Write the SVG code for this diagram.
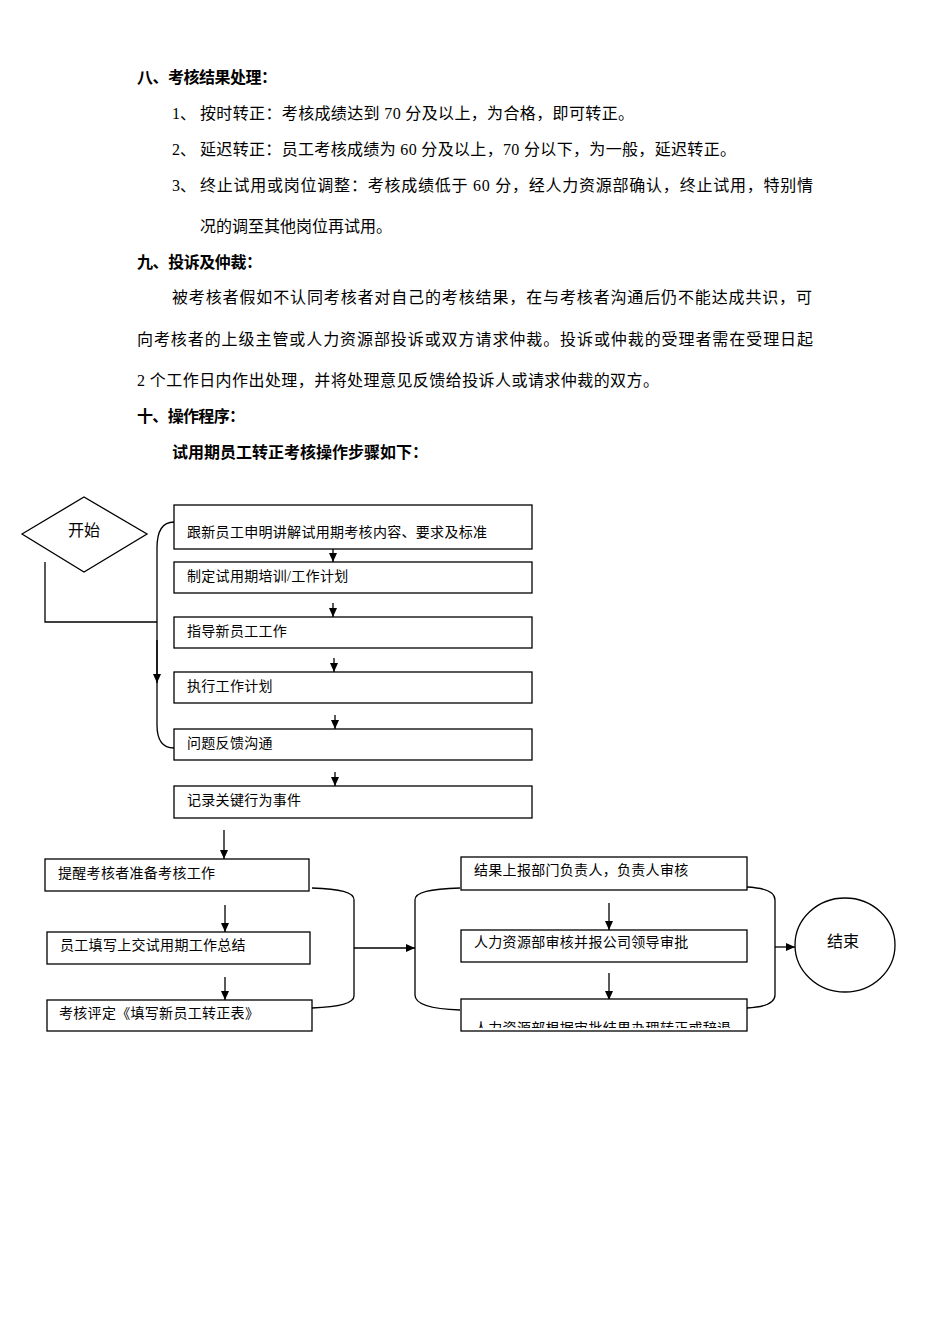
<svg xmlns="http://www.w3.org/2000/svg" width="950" height="1344" viewBox="0 0 950 1344">
<style>
text{font-family:"Liberation Serif","Noto Sans CJK SC",serif;fill:#000}
.h{font-size:16px;font-weight:bold}
.p{font-size:16px}
.b{font-size:14px;letter-spacing:0.3px}
.n rect,.n path,.n ellipse{fill:#fff;stroke:#000;stroke-width:1.3}
#connectors path,#connectors line{fill:none;stroke:#000;stroke-width:1.3}
</style>
<defs>
<marker id="ah" markerWidth="10" markerHeight="10" refX="9" refY="5" orient="auto" markerUnits="userSpaceOnUse">
<path d="M0,1 L9,5 L0,9 Z" fill="#000"/>
</marker>
<clipPath id="clip12"><rect x="461" y="1000" width="286" height="28"/></clipPath>
</defs>
<rect width="950" height="1344" fill="#fff"/>

<g id="body-text">
<text class="h" x="137" y="83" textLength="140" lengthAdjust="spacing">八、考核结果处理：</text>
<text class="p" x="172" y="119">1、</text>
<text class="p" x="200" y="119" textLength="434" lengthAdjust="spacing">按时转正：考核成绩达到 70 分及以上，为合格，即可转正。</text>
<text class="p" x="172" y="155">2、</text>
<text class="p" x="200" y="155" textLength="536" lengthAdjust="spacing">延迟转正：员工考核成绩为 60 分及以上，70 分以下，为一般，延迟转正。</text>
<text class="p" x="172" y="191">3、</text>
<text class="p" x="200" y="191" textLength="613" lengthAdjust="spacing">终止试用或岗位调整：考核成绩低于 60 分，经人力资源部确认，终止试用，特别情</text>
<text class="p" x="200" y="232" textLength="192" lengthAdjust="spacing">况的调至其他岗位再试用。</text>
<text class="h" x="137" y="268" textLength="125" lengthAdjust="spacing">九、投诉及仲裁：</text>
<text class="p" x="172" y="303" textLength="640" lengthAdjust="spacing">被考核者假如不认同考核者对自己的考核结果，在与考核者沟通后仍不能达成共识，可</text>
<text class="p" x="137" y="345" textLength="676" lengthAdjust="spacing">向考核者的上级主管或人力资源部投诉或双方请求仲裁。投诉或仲裁的受理者需在受理日起</text>
<text class="p" x="137" y="386" textLength="522" lengthAdjust="spacing">2 个工作日内作出处理，并将处理意见反馈给投诉人或请求仲裁的双方。</text>
<text class="h" x="137" y="422" textLength="108" lengthAdjust="spacing">十、操作程序：</text>
<text class="h" x="172" y="458" textLength="256" lengthAdjust="spacing">试用期员工转正考核操作步骤如下：</text>
</g>

<g id="connectors">
<path d="M45,562 V622 H157"/>
<path d="M174,522 C162,522 157,532 157,548 V725 C157,740 163,748 174,748"/>
<line x1="157" y1="640" x2="157" y2="683" marker-end="url(#ah)"/>
<line x1="333" y1="549" x2="333" y2="562" marker-end="url(#ah)"/>
<line x1="333" y1="603" x2="333" y2="617" marker-end="url(#ah)"/>
<line x1="334" y1="658" x2="334" y2="672" marker-end="url(#ah)"/>
<line x1="335" y1="715" x2="335" y2="729" marker-end="url(#ah)"/>
<line x1="335" y1="772" x2="335" y2="786" marker-end="url(#ah)"/>
<line x1="224" y1="830" x2="224" y2="859" marker-end="url(#ah)"/>
<line x1="225" y1="905" x2="225" y2="932" marker-end="url(#ah)"/>
<line x1="225" y1="977" x2="225" y2="1000" marker-end="url(#ah)"/>
<path d="M312,888 C340,889 354,892 354,900 V996 C354,1003 340,1007 312,1008"/>
<line x1="354" y1="948" x2="415" y2="948" marker-end="url(#ah)"/>
<path d="M460,888 C430,889 415,892 415,900 V995 C415,1004 430,1009 460,1010"/>
<line x1="609" y1="903" x2="609" y2="930" marker-end="url(#ah)"/>
<line x1="609" y1="973" x2="609" y2="1000" marker-end="url(#ah)"/>
<path d="M747,887 C766,888 775,892 775,900 V995 C775,1003 766,1007 747,1008"/>
<line x1="775" y1="947" x2="795" y2="947" marker-end="url(#ah)"/>
</g>

<g id="start" class="n">
<path d="M22,534 L84,497 L147,534 L84,572 Z"/>
<text class="p" x="84" y="536" text-anchor="middle">开始</text>
</g>
<g id="n1" class="n"><rect x="174" y="505" width="358" height="44"/><text class="b" x="187" y="537">跟新员工申明讲解试用期考核内容、要求及标准</text></g>
<g id="n2" class="n"><rect x="174" y="562" width="358" height="31"/><text class="b" x="187" y="581">制定试用期培训/工作计划</text></g>
<g id="n3" class="n"><rect x="174" y="617" width="358" height="31"/><text class="b" x="187" y="636">指导新员工工作</text></g>
<g id="n4" class="n"><rect x="174" y="672" width="358" height="31"/><text class="b" x="187" y="691">执行工作计划</text></g>
<g id="n5" class="n"><rect x="174" y="729" width="358" height="31"/><text class="b" x="187" y="748">问题反馈沟通</text></g>
<g id="n6" class="n"><rect x="174" y="786" width="358" height="32"/><text class="b" x="187" y="805">记录关键行为事件</text></g>
<g id="n7" class="n"><rect x="45" y="859" width="264" height="32"/><text class="b" x="58" y="878">提醒考核者准备考核工作</text></g>
<g id="n8" class="n"><rect x="47" y="932" width="263" height="32"/><text class="b" x="60" y="950">员工填写上交试用期工作总结</text></g>
<g id="n9" class="n"><rect x="47" y="1000" width="265" height="31"/><text class="b" x="59" y="1018">考核评定《填写新员工转正表》</text></g>
<g id="n10" class="n"><rect x="461" y="857" width="286" height="33"/><text class="b" x="474" y="875">结果上报部门负责人，负责人审核</text></g>
<g id="n11" class="n"><rect x="461" y="930" width="286" height="32"/><text class="b" x="474" y="947">人力资源部审核并报公司领导审批</text></g>
<g id="n12" class="n"><rect x="461" y="999" width="286" height="32"/><text class="b" x="474" y="1033" clip-path="url(#clip12)">人力资源部根据审批结果办理转正或辞退</text></g>
<g id="end" class="n">
<ellipse cx="845" cy="945" rx="50" ry="47"/>
<text class="p" x="843" y="947" text-anchor="middle">结束</text>
</g>
</svg>
